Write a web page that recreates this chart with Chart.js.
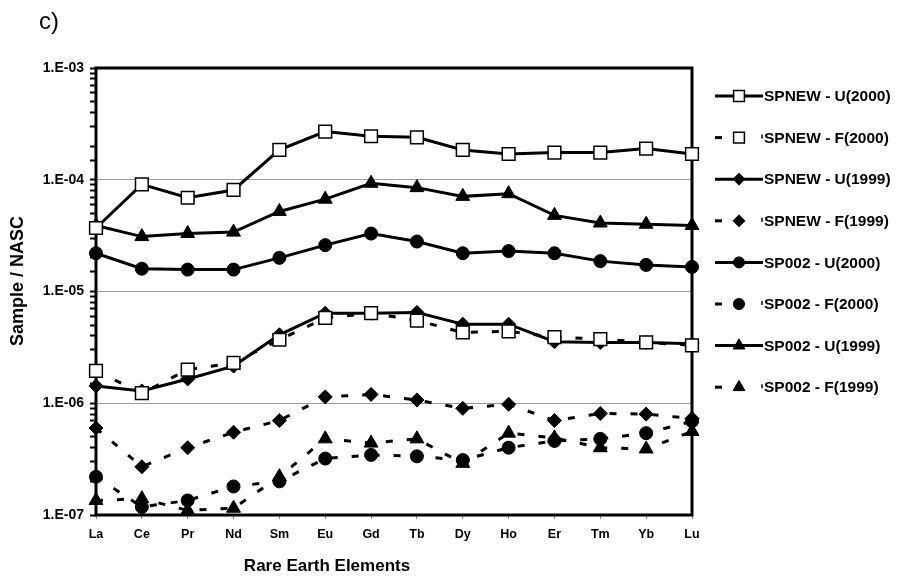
<!DOCTYPE html>
<html>
<head>
<meta charset="utf-8">
<script src="https://cdn.jsdelivr.net/npm/chart.js@4.4.1/dist/chart.umd.min.js"></script>
<style>
  html, body { margin: 0; padding: 0; background: #fff; }
  canvas { display: block; }
</style>
</head>
<body>
<canvas id="reeChart" width="903" height="582"></canvas>
<script>
const categories = ['La', 'Ce', 'Pr', 'Nd', 'Sm', 'Eu', 'Gd', 'Tb', 'Dy', 'Ho', 'Er', 'Tm', 'Yb', 'Lu'];

const spnewU2000 = [3.7e-5, 9.1e-5, 6.9e-5, 8.1e-5, 1.85e-4, 2.7e-4, 2.45e-4, 2.4e-4, 1.85e-4, 1.7e-4, 1.75e-4, 1.75e-4, 1.9e-4, 1.7e-4];
const spnewF2000 = [1.95e-6, 1.23e-6, 2.0e-6, 2.3e-6, 3.7e-6, 5.8e-6, 6.4e-6, 5.5e-6, 4.3e-6, 4.4e-6, 3.9e-6, 3.75e-6, 3.5e-6, 3.3e-6];
const spnewU1999 = [1.43e-6, 1.29e-6, 1.65e-6, 2.15e-6, 4.1e-6, 6.4e-6, 6.4e-6, 6.5e-6, 5.1e-6, 5.1e-6, 3.55e-6, 3.5e-6, 3.5e-6, 3.4e-6];
const spnewF1999 = [6.0e-7, 2.7e-7, 4.0e-7, 5.5e-7, 7.0e-7, 1.14e-6, 1.2e-6, 1.07e-6, 9.0e-7, 9.8e-7, 7.0e-7, 8.1e-7, 8.0e-7, 7.3e-7];
const sp002U2000 = [2.2e-5, 1.6e-5, 1.57e-5, 1.57e-5, 2.0e-5, 2.6e-5, 3.3e-5, 2.8e-5, 2.2e-5, 2.3e-5, 2.2e-5, 1.87e-5, 1.73e-5, 1.66e-5];
const sp002F2000 = [2.2e-7, 1.18e-7, 1.35e-7, 1.8e-7, 2.0e-7, 3.2e-7, 3.45e-7, 3.35e-7, 3.1e-7, 4.0e-7, 4.6e-7, 4.8e-7, 5.4e-7, 6.9e-7];
const sp002U1999 = [3.9e-5, 3.1e-5, 3.3e-5, 3.4e-5, 5.2e-5, 6.7e-5, 9.3e-5, 8.5e-5, 7.1e-5, 7.5e-5, 4.8e-5, 4.1e-5, 4.0e-5, 3.9e-5];
const sp002F1999 = [1.35e-7, 1.4e-7, 1.1e-7, 1.15e-7, 2.2e-7, 4.8e-7, 4.4e-7, 4.8e-7, 2.9e-7, 5.4e-7, 4.9e-7, 4.0e-7, 3.9e-7, 5.6e-7];

const yMin = 1e-7;
const yMax = 1e-3;
const gridDecades = [1e-4, 1e-5, 1e-6];

const FONT = '"Liberation Sans", Arial, sans-serif';
Chart.defaults.color = '#000';
Chart.defaults.font.family = FONT;

const DASH = [7, 14];

function series(label, data, style, radius, dashed, fill) {
  return {
    label: label,
    data: data,
    borderColor: '#000',
    borderWidth: 3,
    borderDash: dashed ? DASH : [],
    pointStyle: style,
    pointRadius: radius,
    pointBorderWidth: style === 'rect' ? 1.5 : 1,
    pointBackgroundColor: fill,
    pointBorderColor: '#000',
    tension: 0,
    clip: false
  };
}

const datasets = [
  series('SPNEW - U(2000)', spnewU2000, 'rect', 9, false, '#fff'),
  series('SPNEW - F(2000)', spnewF2000, 'rect', 9, true, '#fff'),
  series('SPNEW - U(1999)', spnewU1999, 'rectRot', 7, false, '#000'),
  series('SPNEW - F(1999)', spnewF1999, 'rectRot', 7, true, '#000'),
  series('SP002 - U(2000)', sp002U2000, 'circle', 6.5, false, '#000'),
  series('SP002 - F(2000)', sp002F2000, 'circle', 6.5, true, '#000'),
  series('SP002 - U(1999)', sp002U1999, 'triangle', 8, false, '#000'),
  series('SP002 - F(1999)', sp002F1999, 'triangle', 8, true, '#000')
];

function isDecade(v) {
  const e = Math.log10(v);
  return Math.abs(e - Math.round(e)) < 1e-6;
}

// frame around the plot, drawn under the markers
const framePlugin = {
  id: 'frame',
  beforeDatasetsDraw(chart) {
    const a = chart.chartArea;
    const ctx = chart.ctx;
    ctx.save();
    ctx.strokeStyle = '#000';
    ctx.lineWidth = 3;
    ctx.strokeRect(a.left, a.top, a.right - a.left, a.bottom - a.top);
    ctx.restore();
  }
};

// axis titles, panel letter and the legend with line + marker samples
const sideLegend = {
  id: 'sideLegend',
  afterDraw(chart) {
    const ctx = chart.ctx;
    ctx.save();
    ctx.fillStyle = '#000';
    ctx.textBaseline = 'middle';
    ctx.textAlign = 'left';
    ctx.font = '24px ' + FONT;
    ctx.fillText('c)', 39, 22);

    ctx.textAlign = 'center';
    ctx.font = 'bold 17px ' + FONT;
    ctx.fillText('Rare Earth Elements', 327, 566);

    ctx.save();
    ctx.translate(18, 281);
    ctx.rotate(-Math.PI / 2);
    ctx.font = 'bold 18px ' + FONT;
    ctx.fillText('Sample / NASC', 0, 0);
    ctx.restore();

    const x0 = 715, x1 = 763, top = 96, step = 41.6;
    ctx.font = 'bold 15.5px ' + FONT;
    chart.data.datasets.forEach(function (ds, i) {
      const y = top + i * step;
      const xm = (x0 + x1) / 2;
      ctx.strokeStyle = '#000';
      ctx.lineWidth = 3;
      ctx.beginPath();
      if (ds.borderDash.length) {
        ctx.moveTo(x0, y); ctx.lineTo(x0 + 7, y);
        ctx.stroke();
        ctx.beginPath();
        ctx.lineWidth = 1.5;
        ctx.moveTo(x1 - 1, y - 3); ctx.lineTo(x1 - 1, y + 1);
      } else {
        ctx.moveTo(x0, y); ctx.lineTo(x1, y);
      }
      ctx.stroke();
      ctx.fillStyle = ds.pointBackgroundColor;
      ctx.strokeStyle = '#000';
      ctx.lineWidth = ds.pointBorderWidth;
      Chart.helpers.drawPoint(ctx, {
        pointStyle: ds.pointStyle,
        radius: ds.pointRadius * 0.85,
        rotation: 0,
        borderWidth: ds.pointBorderWidth
      }, xm, y);
      ctx.fillStyle = '#000';
      ctx.textAlign = 'left';
      ctx.fillText(ds.label, x1 + 1, y + 1);
    });
    ctx.restore();
  }
};

new Chart(document.getElementById('reeChart').getContext('2d'), {
  type: 'line',
  data: {
    labels: categories,
    datasets: datasets
  },
  options: {
    responsive: false,
    animation: false,
    layout: {
      padding: { left: 0, right: 211, top: 68, bottom: 0 }
    },
    plugins: {
      legend: { display: false },
      tooltip: { enabled: false }
    },
    scales: {
      x: {
        type: 'category',
        offset: false,
        border: { display: false },
        grid: {
          drawOnChartArea: false,
          tickLength: 4,
          tickColor: '#888',
          tickWidth: 1
        },
        ticks: {
          padding: 8,
          maxRotation: 0,
          autoSkip: false,
          font: { size: 12.5, weight: 'bold' }
        },
        afterFit(scale) { scale.height = 67; }
      },
      y: {
        type: 'logarithmic',
        min: yMin,
        max: yMax,
        border: { display: false },
        grid: {
          color(ctx) {
            const v = ctx.tick && ctx.tick.value;
            return v && gridDecades.some(d => Math.abs(v - d) / d < 1e-6) ? '#9a9a9a' : 'rgba(0,0,0,0)';
          },
          lineWidth: 1,
          tickLength: 6,
          tickWidth: 2,
          tickColor: '#000'
        },
        ticks: {
          autoSkip: false,
          padding: 6,
          font: { size: 14, weight: 'bold' },
          callback(v) {
            if (!isDecade(v)) return '';
            const e = Math.round(Math.log10(v));
            return '1.E-' + String(-e).padStart(2, '0');
          }
        },
        afterFit(scale) { scale.width = 96; }
      }
    }
  },
  plugins: [framePlugin, sideLegend]
});
</script>
</body>
</html>
